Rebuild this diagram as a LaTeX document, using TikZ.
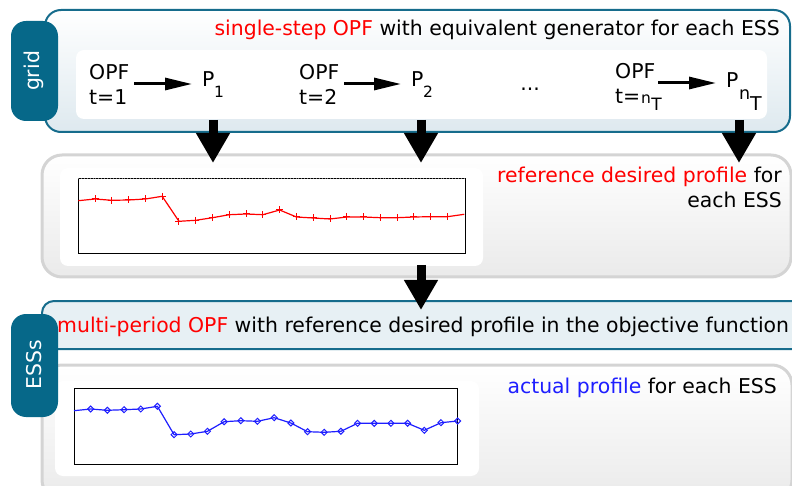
\documentclass[tikz,border=0pt]{standalone}
\usepackage{fontspec}
\setmainfont{DejaVu Sans}
\usetikzlibrary{arrows.meta,calc}

\definecolor{tealline}{RGB}{22,108,140}
\definecolor{tealtab}{RGB}{6,104,137}
\definecolor{panelbot}{RGB}{222,233,239}
\definecolor{barfill}{RGB}{231,240,244}
\definecolor{grayline}{RGB}{212,212,212}
\definecolor{graybot}{RGB}{234,234,234}
\definecolor{refred}{RGB}{255,0,0}
\definecolor{actblue}{RGB}{30,30,255}

\tikzset{
  txt/.style={inner sep=0pt, font=\fontsize{20.4}{25}\selectfont},
  subtxt/.style={inner sep=0pt, font=\fontsize{15.5}{16}\selectfont},
  tabbox/.style={fill=tealtab, rounded corners=15pt},
  tabtext/.style={txt, text=white, rotate=90},
  gridpanel/.style={draw=tealline, line width=2pt, rounded corners=16pt,
    top color=white, bottom color=panelbot},
  graypanel/.style={draw=grayline, line width=3pt, rounded corners=20pt,
    top color=white, bottom color=graybot},
  innerbox/.style={fill=white, rounded corners=8pt},
  flowarrow/.style={line width=3pt, -{Triangle[length=27pt,width=12pt]}},
  bigarrow/.style={line width=9pt, -{Triangle[length=30pt,width=32pt]}},
  frame/.style={draw=black, line width=0.8pt},
  redline/.style={draw=refred, line width=1.2pt, line join=round},
  blueline/.style={draw=actblue, line width=1.2pt, line join=round},
}

\begin{document}
\begin{tikzpicture}[x=1pt, y=-1pt]
\useasboundingbox (0,0) rectangle (792,486);

% ---------- grid layer: single-step OPF ----------
\draw[gridpanel] (45,10) rectangle (790,132);
\fill[innerbox] (76,50) rectangle (767,119);
\fill[tabbox] (11,21) rectangle (58,121);
\node[tabtext] (gridlbl) at (34,71) {grid};
\node[txt, anchor=base east] (title1) at (780,36)
  {\textcolor{refred}{single-step OPF} with equivalent generator for each ESS};

% time step 1
\node[txt, anchor=base west] (opf1) at (89,80) {OPF};
\node[txt, anchor=base west] (t1) at (89,105) {t=1};
\node[txt, anchor=base west] (p1) at (202,87) {P};
\node[subtxt, anchor=base west] (p1s) at (214,98) {1};
% time step 2
\node[txt, anchor=base west] (opf2) at (299,80) {OPF};
\node[txt, anchor=base west] (t2) at (299,105) {t=2};
\node[txt, anchor=base west] (p2) at (411,87) {P};
\node[subtxt, anchor=base west] (p2s) at (423,98) {2};
\node[txt, anchor=base] (dots) at (530,91) {...};
% last time step
\node[txt, anchor=base west] (opf3) at (615,79) {OPF};
\node[txt, anchor=base west] (t3) at (615,104) {t=};
\node[subtxt, anchor=base west] (t3n) at ([xshift=0.5pt]t3.base east) {n};
\node[subtxt, font=\fontsize{17}{17}\selectfont, anchor=base west] (t3T) at ([yshift=-7pt]t3n.base east) {T};
\node[txt, anchor=base west] (p3) at (726,88) {P};
\node[subtxt, font=\fontsize{17.5}{18}\selectfont, anchor=base west] (p3n) at (739,100) {n};
\node[txt, font=\fontsize{19}{19}\selectfont, anchor=base west] (p3T) at (750,111) {T};

\coordinate (a1s) at (134,84); \coordinate (a1e) at (192,84);
\coordinate (a2s) at (344,84); \coordinate (a2e) at (401,84);
\coordinate (a3s) at (658,83); \coordinate (a3e) at (716,83);
\draw[flowarrow] (a1s) -- (a1e);
\draw[flowarrow] (a2s) -- (a2e);
\draw[flowarrow] (a3s) -- (a3e);

% ---------- reference desired profile ----------
\draw[graypanel] (42,155) rectangle (791,277);
\fill[innerbox] (60,168) rectangle (483,266);
\node[txt, anchor=base east] (reftxt) at (782,183)
  {\textcolor{refred}{reference desired profile} for};
\node[txt, anchor=base east] (reftxtb) at (782,208) {each ESS};

\draw[frame] (78,178) rectangle (465,253);
\draw[gray, line width=0.9pt, dotted] (78,178) -- (465,178);
\foreach \yv [count=\i from 0] in {200.7,199,200.3,200,199,196.3,221.3,220.3,217.7,214.7,214,214.7,210,217,218,219,217,217,217.7,217.7,217,216.7,216.7,214.3}
  \coordinate (r\i) at ({78.3+16.78*\i},\yv);
\draw[redline] (r0) \foreach \i in {1,...,23} { -- (r\i) };
\foreach \i in {1,...,22}
  \draw[refred, line width=1pt] (r\i) +(-3.5,0) -- +(3.5,0) +(0,-3.5) -- +(0,3.5);

% ---------- ESSs layer: multi-period OPF ----------
\draw[graypanel] (42,365) rectangle (792,500);
\fill[innerbox] (55,381) rectangle (479,476);
\draw[draw=tealline, line width=2pt, fill=barfill, rounded corners=12pt] (42,301) rectangle (820,349);
\fill[tabbox] (11,314) rectangle (58,417);
\node[tabtext] (esslbl) at (34,365) {ESSs};
\node[txt, anchor=base west] (title2) at (57,332)
  {\textcolor{refred}{multi-period OPF} with reference desired profile in the objective function};
\node[txt, anchor=base east] (acttxt) at (777,393)
  {\textcolor{actblue}{actual profile} for each ESS};

\draw[frame] (74,388) rectangle (457.7,464);
\foreach \yv [count=\i from 0] in {410.7,409,410.3,409.7,409,406.3,434.7,434,431.3,421.7,420.7,421.3,417.7,423,431.7,432.3,431.3,423.3,423.3,423.3,423.3,430.3,422.7,421}
  \coordinate (b\i) at ({74+16.68*\i},\yv);
\draw[blueline] (b0) \foreach \i in {1,...,23} { -- (b\i) };
\foreach \i in {1,...,23}
  \draw[actblue, line width=1pt] (b\i) +(-3,0) -- +(0,-3) -- +(3,0) -- +(0,3) -- cycle;

% ---------- vertical flow arrows ----------
\coordinate (s1) at (213,120); \coordinate (e1) at (213,163);
\coordinate (s2) at (421,120); \coordinate (e2) at (421,163);
\coordinate (s3) at (739,120); \coordinate (e3) at (739,163);
\coordinate (s4) at (421,265); \coordinate (e4) at (421,310);
\draw[bigarrow] (s1) -- (e1);
\draw[bigarrow] (s2) -- (e2);
\draw[bigarrow] (s3) -- (e3);
\draw[bigarrow] (s4) -- (e4);
\end{tikzpicture}
\end{document}
